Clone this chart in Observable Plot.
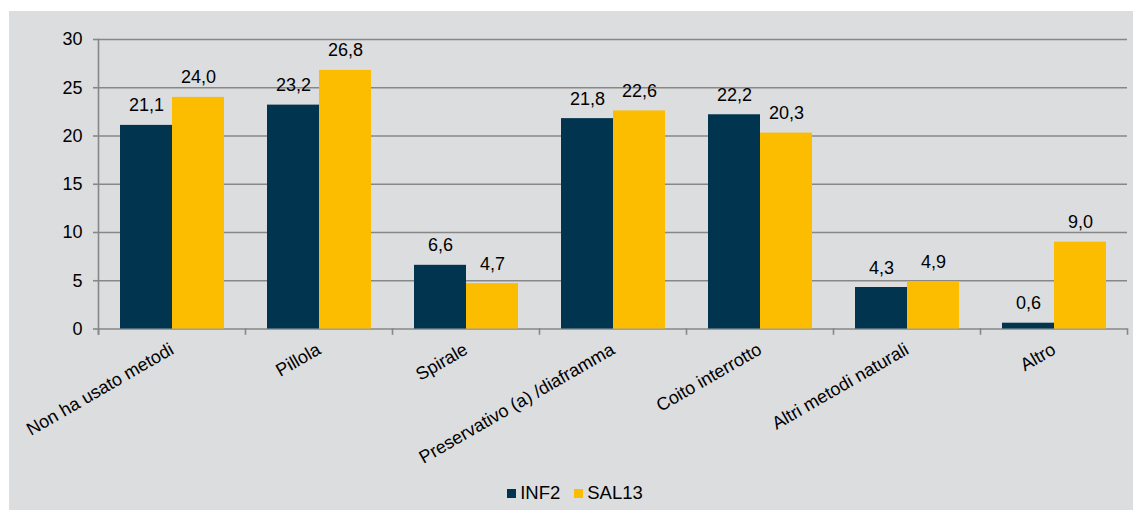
<!DOCTYPE html>
<html>
<head>
<meta charset="utf-8">
<script src="https://cdn.jsdelivr.net/npm/d3@7"></script>
<script src="https://cdn.jsdelivr.net/npm/@observablehq/plot@0.6"></script>
<style>
  html, body { margin: 0; padding: 0; background: #ffffff; }
  #panel {
    position: absolute; left: 9px; top: 11px; width: 1124px; height: 499px;
    background: #dcdddf; font-family: "Liberation Sans", Arial, sans-serif;
  }
  #chart { position: absolute; left: 0; top: 0; }
  #legend { position: absolute; left: 11px; top: 471px; width: 1124px; display: flex; justify-content: center; }
  #legend .lg-swatches { font-family: "Liberation Sans", Arial, sans-serif; font-size: 18.5px; color: #000; margin: 0; min-height: 0; }
  #legend .lg-swatch { margin-right: 14px !important; }
  #legend .lg-swatch svg { margin-right: 4px !important; }
</style>
</head>
<body>
<div id="panel">
  <div id="chart"></div>
  <div id="legend"></div>
</div>
<script>
const categories = [
  "Non ha usato metodi",
  "Pillola",
  "Spirale",
  "Preservativo (a) /diaframma",
  "Coito interrotto",
  "Altri metodi naturali",
  "Altro"
];
const series = ["INF2", "SAL13"];
const inf2 = [21.1, 23.2, 6.6, 21.8, 22.2, 4.3, 0.6];
const sal13 = [24.0, 26.8, 4.7, 22.6, 20.3, 4.9, 9.0];
const yTicks = [0, 5, 10, 15, 20, 25, 30];
const colors = ["#01344f", "#fcbc00"];

const seriesValues = [inf2, sal13];
const rows = categories.flatMap((c, i) =>
  series.map((s, j) => ({ cat: c, series: s, value: seriesValues[j][i] }))
);
const fmt = v => v.toFixed(1).replace(".", ",");

const W = 1124, H = 460, mT = 28, mB = 142.5;
const facetH = H - mT - mB;
const gray = "#878787";

const chart = Plot.plot({
  width: W,
  height: H,
  marginLeft: 89,
  marginRight: 6,
  marginTop: mT,
  marginBottom: mB,
  style: { background: "transparent", fontFamily: "'Liberation Sans', Arial, sans-serif", fontSize: "18px", color: "#000" },
  fx: { domain: categories, padding: 0, label: null },
  x: { domain: series, paddingInner: 0, paddingOuter: 0.4, axis: null },
  y: { domain: [0, 30], label: null },
  color: { domain: series, range: colors },
  marks: [
    Plot.ruleY(yTicks, { stroke: gray, strokeWidth: 1.6 }),
    Plot.frame({ anchor: "left", facetAnchor: "left", stroke: gray, strokeWidth: 1.6, insetBottom: -5 }),
    Plot.frame({ anchor: "left", stroke: gray, strokeWidth: 1.6, insetTop: facetH, insetBottom: -5 }),
    Plot.frame({ anchor: "right", facetAnchor: "right", stroke: gray, strokeWidth: 1.6, insetTop: facetH, insetBottom: -5 }),
    Plot.axisY({ ticks: yTicks, tickSize: 5, tickPadding: 11, stroke: gray, strokeWidth: 1.6, fill: "#000", fontSize: 18, label: null }),
    Plot.axisFx({ anchor: "bottom", tickRotate: -30, tickSize: 0, tickPadding: 19, fontSize: 18, fill: "#000", label: null }),
    Plot.barY(rows, { fx: "cat", x: "series", y: "value", fill: "series" }),
    Plot.text(rows, { fx: "cat", x: "series", y: "value", text: d => fmt(d.value), lineAnchor: "bottom", dy: -14, fontSize: 18, fill: "#000" })
  ]
});
document.getElementById("chart").appendChild(chart);

const legend = Plot.legend({
  color: { domain: series, range: colors },
  swatchWidth: 9,
  swatchHeight: 9,
  className: "lg"
});
document.getElementById("legend").appendChild(legend);
</script>
</body>
</html>
